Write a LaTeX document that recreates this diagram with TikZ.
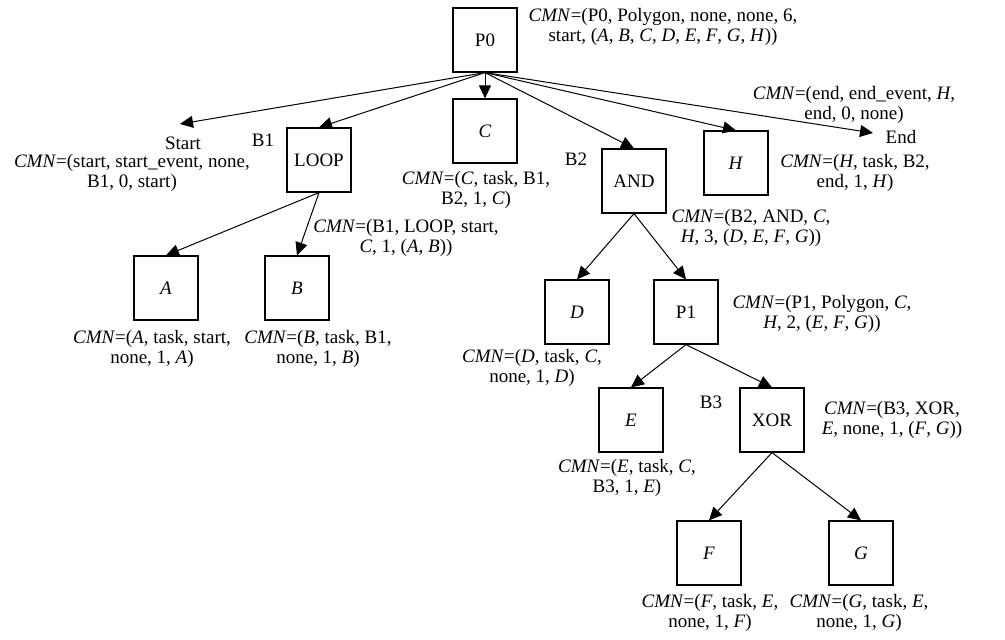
\documentclass[tikz,border=0pt]{standalone}
\usepackage{fontspec}
\setmainfont{Liberation Serif}
\usetikzlibrary{arrows.meta}
\newcommand\cmn{\textit{CMN}=}
\newcommand\tk[1]{\textit{#1}}

\begin{document}
\begin{tikzpicture}[
    x=0.5pt, y=-0.5pt,
    every node/.style={font=\fontsize{9.5}{10.2}\selectfont},
    pnode/.style={draw, line width=0.6pt, minimum size=32pt, inner sep=0pt},
    cnode/.style={align=center, inner sep=0pt},
    link/.style={-{Triangle[length=6.5pt, width=6pt]}, line width=0.5pt},
]
\useasboundingbox (0,0) rectangle (1005,640);

% blocks
\node[pnode] (p0) at (485,40) {P0};
\node[pnode] (c) at (485,131) {\tk{C}};
\node[pnode] (loop) at (319,160) {LOOP};
\node[pnode] (and) at (634,181) {AND};
\node[pnode] (h) at (736,163) {\tk{H}};
\node[pnode] (a) at (166,288) {\tk{A}};
\node[pnode] (b) at (297,288) {\tk{B}};
\node[pnode] (d) at (577,312) {\tk{D}};
\node[pnode] (p1) at (686,312) {P1};
\node[pnode] (e) at (631,420) {\tk{E}};
\node[pnode] (xor) at (772,420) {XOR};
\node[pnode] (f) at (709,553) {\tk{F}};
\node[pnode] (g) at (861,553) {\tk{G}};

% events
\node[cnode] (start) at (183,143) {Start};
\node[cnode] (end) at (901,137) {End};
\coordinate (sttip) at (180,124);
\coordinate (entip) at (873,133);

% block names
\node[cnode] (b1) at (263,140) {B1};
\node[cnode] (b2) at (576,159) {B2};
\node[cnode] (b3) at (711,402) {B3};

% CMN tuples
\node[cnode] (p0cmn) at (663,27) {\cmn(P0, Polygon, none, none, 6,\\ start, (\tk{A}, \tk{B}, \tk{C}, \tk{D}, \tk{E}, \tk{F}, \tk{G}, \tk{H}))};
\node[cnode] (encmn) at (854,105) {\cmn(end, end\_event, \tk{H},\\ end, 0, none)};
\node[cnode] (stcmn) at (132,173) {\cmn(start, start\_event, none,\\ B1, 0, start)};
\node[cnode] (ccmn) at (476,190) {\cmn(\tk{C}, task, B1,\\ B2, 1, \tk{C})};
\node[cnode] (loopcmn) at (406,238) {\cmn(B1, LOOP, start,\\ \tk{C}, 1, (\tk{A}, \tk{B}))};
\node[cnode] (hcmn) at (855,173) {\cmn(\tk{H}, task, B2,\\ end, 1, \tk{H})};
\node[cnode] (andcmn) at (751,228) {\cmn(B2, AND, \tk{C},\\ \tk{H}, 3, (\tk{D}, \tk{E}, \tk{F}, \tk{G}))};
\node[cnode] (acmn) at (152,349) {\cmn(\tk{A}, task, start,\\ none, 1, \tk{A})};
\node[cnode] (bcmn) at (318,349) {\cmn(\tk{B}, task, B1,\\ none, 1, \tk{B})};
\node[cnode] (dcmn) at (532,368) {\cmn(\tk{D}, task, \tk{C},\\ none, 1, \tk{D})};
\node[cnode] (p1cmn) at (822,314) {\cmn(P1, Polygon, \tk{C},\\ \tk{H}, 2, (\tk{E}, \tk{F}, \tk{G}))};
\node[cnode] (ecmn) at (627,478) {\cmn(\tk{E}, task, \tk{C},\\ B3, 1, \tk{E})};
\node[cnode] (xorcmn) at (892,420) {\cmn(B3, XOR,\\ \tk{E}, none, 1, (\tk{F}, \tk{G}))};
\node[cnode] (fcmn) at (710,613) {\cmn(\tk{F}, task, \tk{E},\\ none, 1, \tk{F})};
\node[cnode] (gcmn) at (859,613) {\cmn(\tk{G}, task, \tk{E},\\ none, 1, \tk{G})};

% links
\draw[link] (p0.south) -- (sttip);
\draw[link] (p0.south) -- (loop.north);
\draw[link] (p0.south) -- (c.north);
\draw[link] (p0.south) -- (and.north);
\draw[link] (p0.south) -- (h.north);
\draw[link] (p0.south) -- (entip);
\draw[link] (loop.south) -- (a.north);
\draw[link] (loop.south) -- (b.north);
\draw[link] (and.south) -- (d.north);
\draw[link] (and.south) -- (p1.north);
\draw[link] (p1.south) -- (e.north);
\draw[link] (p1.south) -- (xor.north);
\draw[link] (xor.south) -- (f.north);
\draw[link] (xor.south) -- (g.north);
\end{tikzpicture}
\end{document}
